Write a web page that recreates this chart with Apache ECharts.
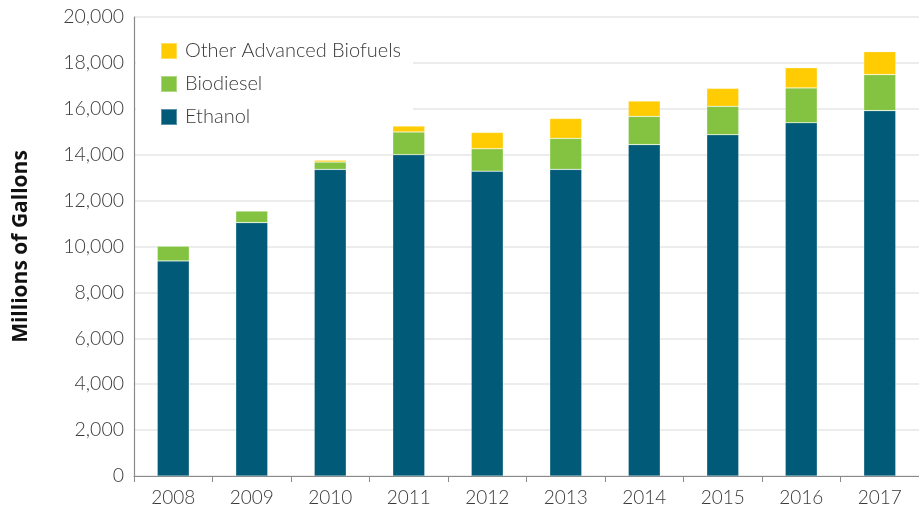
<!DOCTYPE html>
<html><head><meta charset="utf-8">
<script src="https://cdn.jsdelivr.net/npm/echarts@6/dist/echarts.min.js"></script>
<style>html,body{margin:0;padding:0;background:#fff}#c{width:919px;height:514px}</style>
</head><body><div id="c"></div>
<script>
const years = ['2008','2009','2010','2011','2012','2013','2014','2015','2016','2017'];
const ethanol = [9370, 11040, 13360, 14000, 13280, 13360, 14440, 14870, 15390, 15920];
const biodiesel = [650, 510, 320, 990, 980, 1350, 1230, 1240, 1520, 1570];
const otherAdvanced = [0, 0, 80, 260, 710, 870, 670, 780, 880, 1000];
const yTicks = [0, 2000, 4000, 6000, 8000, 10000, 12000, 14000, 16000, 18000, 20000];

const font = 'Lato';
const chart = echarts.init(document.getElementById('c'), null, {renderer: 'canvas'});
const barStyle = (c) => ({color: c, borderColor: 'rgba(255,255,255,0.35)', borderWidth: 0.6});
chart.setOption({
  animation: false,
  grid: {left: 134, right: -11, top: 17, bottom: 38, containLabel: false},
  legend: {
    orient: 'vertical', left: 136, top: 29, z: 1,
    data: ['Other Advanced Biofuels', 'Biodiesel', 'Ethanol'],
    itemWidth: 16, itemHeight: 16, itemGap: 13,
    backgroundColor: '#fff',
    padding: [12, 12, 8, 24],
    icon: 'rect',
    textStyle: {fontFamily: font, fontSize: 20, fontWeight: 300, color: '#3a3a3a', padding: [0, 0, 0, 3]}
  },
  xAxis: {
    type: 'category', data: years,
    axisLine: {lineStyle: {color: '#8a8a8a', width: 1.2}},
    axisTick: {show: true, length: 6, lineStyle: {color: '#8a8a8a'}},
    axisLabel: {fontFamily: font, fontSize: 19, fontWeight: 300, color: '#3a3a3a', margin: 12}
  },
  yAxis: {
    type: 'value', min: yTicks[0], max: yTicks[yTicks.length - 1], interval: 2000,
    name: 'Millions of Gallons', nameLocation: 'middle', nameGap: 102, nameRotate: 90,
    nameTextStyle: {fontFamily: 'Open Sans', fontSize: 21, fontWeight: 'bold', color: '#111'},
    axisLine: {show: true, lineStyle: {color: '#8a8a8a', width: 1.2}},
    axisTick: {show: false},
    axisLabel: {fontFamily: font, fontSize: 19.5, fontWeight: 300, color: '#3a3a3a', margin: 10,
      formatter: (v) => v.toLocaleString('en-US')},
    splitLine: {lineStyle: {color: '#e6e6e6', width: 1.5}}
  },
  series: [
    {name: 'Ethanol', type: 'bar', stack: 'a', data: ethanol, barWidth: 32, itemStyle: barStyle('#005a78')},
    {name: 'Biodiesel', type: 'bar', stack: 'a', data: biodiesel, barWidth: 32, itemStyle: barStyle('#83c341')},
    {name: 'Other Advanced Biofuels', type: 'bar', stack: 'a', data: otherAdvanced, barWidth: 32, itemStyle: barStyle('#ffcc04')}
  ]
});
</script></body></html>
